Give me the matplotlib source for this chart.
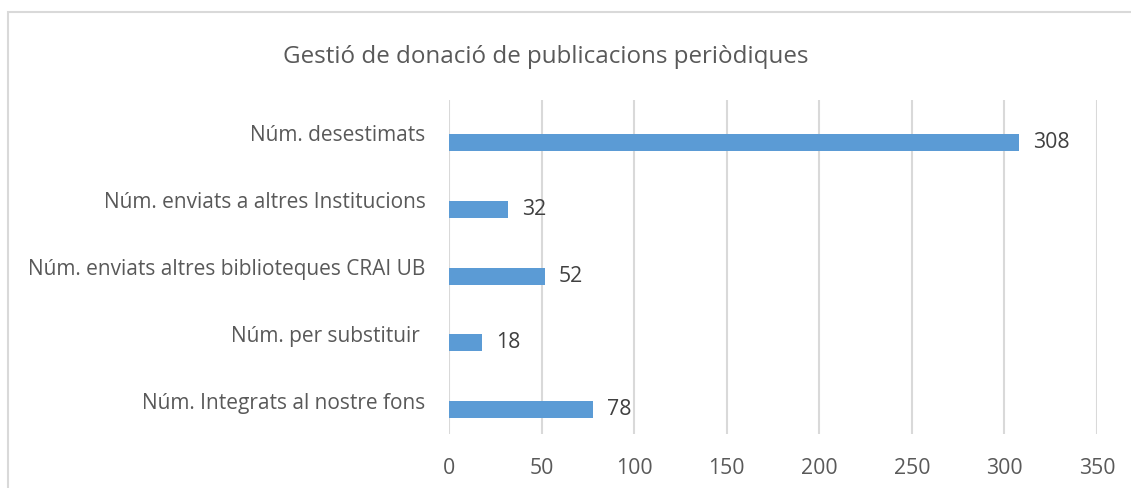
import matplotlib
matplotlib.use("Agg")
import matplotlib.pyplot as plt
from matplotlib.patches import Rectangle

categories = [
    "Núm. desestimats",
    "Núm. enviats a altres Institucions",
    "Núm. enviats altres biblioteques CRAI UB",
    "Núm. per substituir ",
    "Núm. Integrats al nostre fons",
]
values = [308, 32, 52, 18, 78]
x_ticks = [0, 50, 100, 150, 200, 250, 300, 350]
title = "Gestió de donació de publicacions periòdiques"

W, H = 1131, 488
plt.rcParams["font.family"] = ["Open Sans", "DejaVu Sans"]
text_color = "#595959"
grid_color = "#D9D9D9"
bar_color = "#5B9BD5"

fig = plt.figure(figsize=(W / 100, H / 100), dpi=100)
fig.patch.set_facecolor("white")

# chart frame
fig.patches.append(Rectangle((8 / W, -0.1), 1.2, 1 - 12.5 / H + 0.1,
                             transform=fig.transFigure, fill=False,
                             edgecolor=grid_color, linewidth=1.5))

ax = fig.add_axes([449 / W, 1 - 434 / H, (1097 - 449) / W, (434 - 100) / H])
n = len(categories)
ax.set_xlim(0, 350)
ax.set_ylim(n - 0.5, -0.5)

offset = 0.136
pos = [i + offset for i in range(n)]
ax.barh(pos, values, height=0.255, color=bar_color, zorder=3)

for p, v in zip(pos, values):
    ax.text(v + 7.5, p, str(v), va="center", ha="left", fontsize=15.3,
            color="#404040")

ax.set_xticks(x_ticks)
ax.set_xticklabels([str(t) for t in x_ticks], fontsize=15.3, color=text_color)
ax.set_yticks(range(n))
ax.set_yticklabels(categories, fontsize=15, color=text_color)
ax.tick_params(axis="both", length=0)
ax.tick_params(axis="x", pad=17)
ax.tick_params(axis="y", pad=17)
ax.grid(axis="x", color=grid_color, linewidth=1.5, zorder=0)
ax.set_axisbelow(True)
for s in ax.spines.values():
    s.set_visible(False)

fig.text(546 / W, 1 - 57 / H, title, ha="center", va="center",
         fontsize=17.4, color=text_color)

fig.savefig("out.png", dpi=100)
